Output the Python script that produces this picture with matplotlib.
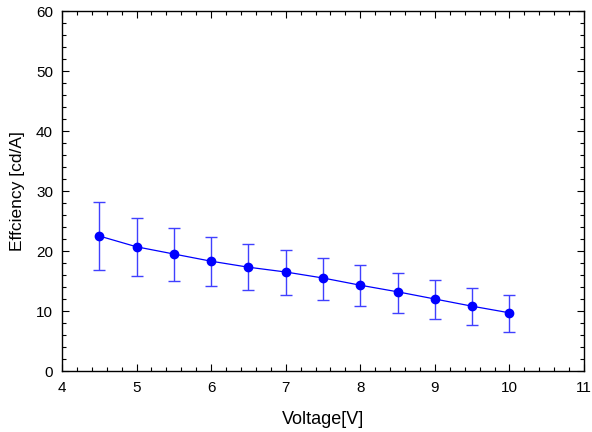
import matplotlib
matplotlib.use("Agg")
import matplotlib.pyplot as plt
from matplotlib.ticker import MultipleLocator

plt.rcParams['font.family'] = ['Liberation Sans', 'DejaVu Sans']

voltage = [4.5, 5.0, 5.5, 6.0, 6.5, 7.0, 7.5, 8.0, 8.5, 9.0, 9.5, 10.0]
efficiency = [22.5, 20.7, 19.5, 18.3, 17.3, 16.5, 15.5, 14.3, 13.2, 12.0, 10.8, 9.7]
err_upper = [5.7, 4.8, 4.3, 4.0, 3.9, 3.6, 3.4, 3.4, 3.2, 3.2, 3.0, 3.0]
err_lower = [5.7, 4.9, 4.5, 4.1, 3.8, 3.8, 3.7, 3.5, 3.5, 3.3, 3.1, 3.2]

fig = plt.figure(figsize=(5.92, 4.32), dpi=100)
ax = fig.add_axes([0.1047, 0.1412, 0.8818, 0.8333])

ax.errorbar(voltage, efficiency, yerr=[err_lower, err_upper], fmt='none',
            ecolor=(0.25, 0.25, 1.0), elinewidth=1.0, capsize=4.5, capthick=1.0)
ax.plot(voltage, efficiency, color='#0000ff', lw=0.9, marker='o', markersize=6,
        markerfacecolor='#0000ff', markeredgecolor='#0000ff')

ax.set_xlim(4, 11)
ax.set_ylim(0, 60)
ax.xaxis.set_major_locator(MultipleLocator(1))
ax.xaxis.set_minor_locator(MultipleLocator(0.2))
ax.yaxis.set_major_locator(MultipleLocator(10))
ax.yaxis.set_minor_locator(MultipleLocator(2))
ax.tick_params(which='both', direction='in', top=True, right=True, labelsize=11, width=0.8, color='black')
ax.tick_params(which='major', length=5)
ax.tick_params(which='minor', length=3)
ax.tick_params(axis='x', which='major', pad=7.5)
ax.tick_params(axis='y', which='major', pad=6.5)
for s in ax.spines.values():
    s.set_linewidth(1.0)

ax.set_xlabel('Voltage[V]', fontsize=13, labelpad=11)
ax.set_ylabel('Effciency [cd/A]', fontsize=12.5, labelpad=8)

fig.savefig('out.png', dpi=100)
